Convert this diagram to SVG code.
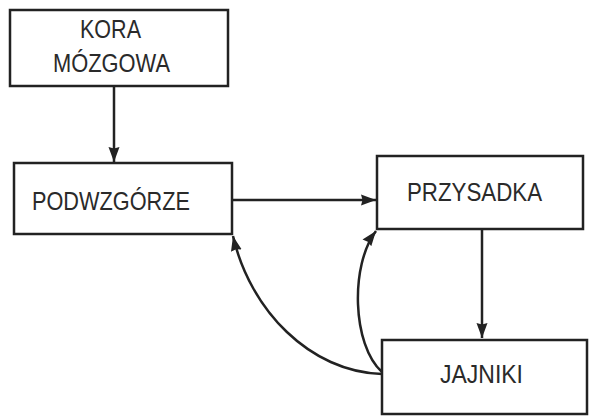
<svg xmlns="http://www.w3.org/2000/svg" width="589" height="416" viewBox="0 0 589 416">
<style>
.box{fill:#fff;stroke:#222;stroke-width:2.5}
.lbl{font-family:"Liberation Sans",Arial,sans-serif;font-size:25px;fill:#2a2a2a}
.edge{fill:none;stroke:#222;stroke-width:2.5}
</style>
<defs>
<marker id="ah" markerUnits="userSpaceOnUse" markerWidth="15" markerHeight="12" refX="15" refY="6" orient="auto">
<path d="M0,0.5 L15,6 L0,11.5 L1.5,6 z" fill="#222"/>
</marker>
</defs>
<rect width="589" height="416" fill="#fff"/>
<g id="connectors">
<line class="edge" x1="114" y1="86" x2="114" y2="162" marker-end="url(#ah)"/>
<line class="edge" x1="232" y1="200" x2="376" y2="200" marker-end="url(#ah)"/>
<line class="edge" x1="482" y1="229" x2="482" y2="338" marker-end="url(#ah)"/>
<path class="edge" d="M382,374 C310,372 250,310 233,236" marker-end="url(#ah)"/>
<path class="edge" d="M382,372 C352,345 350,265 376,231" marker-end="url(#ah)"/>
</g>
<g id="kora">
<rect class="box" x="10" y="10" width="218" height="76"/>
<text class="lbl" x="80" y="38" textLength="61" lengthAdjust="spacingAndGlyphs">KORA</text>
<text class="lbl" x="53" y="72" textLength="117" lengthAdjust="spacingAndGlyphs">MÓZGOWA</text>
</g>
<g id="podwzgorze">
<rect class="box" x="14" y="163" width="218" height="71"/>
<text class="lbl" x="32" y="210" textLength="158" lengthAdjust="spacingAndGlyphs">PODWZGÓRZE</text>
</g>
<g id="przysadka">
<rect class="box" x="377" y="156" width="206" height="73"/>
<text class="lbl" x="407" y="201" textLength="135" lengthAdjust="spacingAndGlyphs">PRZYSADKA</text>
</g>
<g id="jajniki">
<rect class="box" x="382" y="340" width="205" height="74"/>
<text class="lbl" x="440" y="383" textLength="83" lengthAdjust="spacingAndGlyphs">JAJNIKI</text>
</g>
</svg>
